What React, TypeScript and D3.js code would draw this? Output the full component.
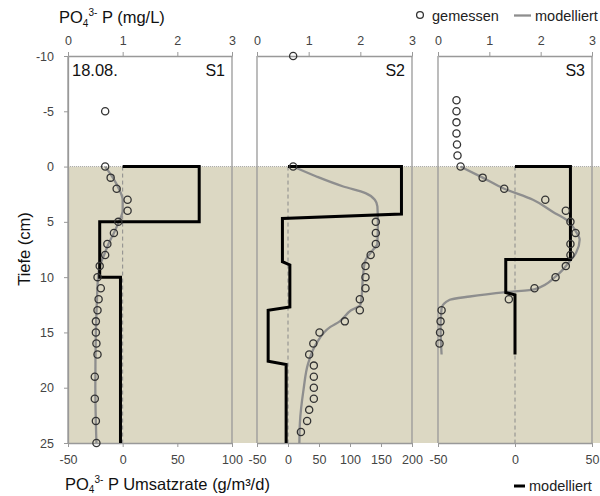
import React, { useEffect, useRef } from "react";
import * as d3 from "d3";

// depth axis (cm), shared by all three cores
const depthTicks = [-10, -5, 0, 5, 10, 15, 20, 25];
const concTicks = [0, 1, 2, 3];
const panelNames = ["S1", "S2", "S3"];
const rateDomains = [[-50, 100], [-50, 200], [-50, 50]];
const rateTicks = [[-50, 0, 50, 100], [-50, 0, 50, 100, 150, 200], [-50, 0, 50]];

// S1 measured PO4-P (mg/L)
const s1MeasDepth = [-5, 0, 1, 2, 3, 4, 5, 6, 7, 8, 9, 10, 11, 12, 13, 14, 15, 16, 17, 19, 21, 23, 25];
const s1MeasConc = [0.68, 0.68, 0.78, 0.89, 1.09, 1.09, 0.92, 0.84, 0.72, 0.68, 0.58, 0.54, 0.6, 0.56, 0.54, 0.51, 0.51, 0.52, 0.54, 0.49, 0.49, 0.51, 0.52];
// S1 modelled
const s1ModDepth = [0, 1, 2, 3, 4, 5, 6, 7, 8, 9, 10, 12, 15, 20, 25];
const s1ModConc = [0.68, 0.82, 0.93, 1.0, 1.0, 0.93, 0.84, 0.74, 0.66, 0.58, 0.55, 0.53, 0.51, 0.5, 0.52];
// S1 rate (g/m3/d)
const s1RateDepth = [0, 0, 5, 5, 10, 10, 25];
const s1Rate = [0, 70, 70, -21, -21, -2, -2];

// S2
const s2MeasDepth = [-10, 0, 5, 6, 7, 8, 9, 10, 11, 12, 13, 14, 15, 16, 17, 18, 19, 20, 21, 22, 23, 24];
const s2MeasConc = [0.7, 0.7, 2.3, 2.3, 2.3, 2.2, 2.1, 2.1, 2.1, 1.99, 1.99, 1.7, 1.21, 1.09, 1.01, 1.1, 1.1, 1.1, 1.1, 1.01, 0.97, 0.85];
const s2ModDepth = [0, 0.9, 1.8, 2.4, 3, 3.6, 5, 7, 7.5, 8.6, 10, 12, 12.5, 13, 14, 14.5, 16, 17.8, 20.2, 23.2, 25];
const s2ModConc = [0.7, 1.15, 1.67, 2.1, 2.28, 2.33, 2.34, 2.33, 2.25, 2.09, 2.05, 2.02, 2.0, 1.82, 1.6, 1.42, 1.15, 0.99, 0.9, 0.83, 0.82];
const s2RateDepth = [0, 0, 4.3, 4.7, 8.6, 8.9, 12.7, 13.0, 17.6, 17.9, 25];
const s2Rate = [0, 183, 183, -9, -9, 3, 3, -32, -32, -3, -3];

// S3
const s3MeasDepth = [-6, -5, -4, -3, -2, -1, 0, 1, 2, 3, 4, 5, 6, 7, 8, 9, 10, 11, 12, 13, 14, 15, 16];
const s3MeasConc = [0.36, 0.36, 0.36, 0.36, 0.37, 0.38, 0.44, 0.87, 1.29, 2.09, 2.49, 2.58, 2.68, 2.58, 2.58, 2.49, 2.29, 1.88, 1.38, 0.07, 0.05, 0.04, 0.03];
const s3ModDepth = [0, 1, 2, 3, 4.1, 4.8, 5.9, 6.6, 7.8, 8.6, 9.9, 11.1, 11.35, 11.75, 12.05, 12.8, 14.5, 17];
const s3ModConc = [0.44, 0.87, 1.29, 1.85, 2.24, 2.5, 2.69, 2.76, 2.69, 2.56, 2.3, 1.88, 1.33, 0.62, 0.23, 0.07, 0.05, 0.07];
const s3RateDepth = [0, 0, 8.4, 8.4, 11.4, 11.6, 17];
const s3Rate = [0, 36, 36, -6, -6, 0, 0];

const panels = [
  { name: panelNames[0], x0: 68, x1: 232, md: s1MeasDepth, mc: s1MeasConc, od: s1ModDepth, oc: s1ModConc, rd: s1RateDepth, r: s1Rate },
  { name: panelNames[1], x0: 257, x1: 412, md: s2MeasDepth, mc: s2MeasConc, od: s2ModDepth, oc: s2ModConc, rd: s2RateDepth, r: s2Rate },
  { name: panelNames[2], x0: 438, x1: 592, md: s3MeasDepth, mc: s3MeasConc, od: s3ModDepth, oc: s3ModConc, rd: s3RateDepth, r: s3Rate },
];

const FONT = "'Liberation Sans', Arial, sans-serif";
const fmt = (d: any) => String(d);

export default function App() {
  const ref = useRef<SVGGElement>(null);

  useEffect(() => {
    const svg = d3.select(ref.current);
    svg.selectAll("*").remove();

    const y = d3.scaleLinear().domain([-10, 25]).range([56, 443]);

    // sediment shading
    svg.append("rect").attr("x", 68).attr("y", y(0)).attr("width", 600 - 68).attr("height", y(25) - y(0))
      .attr("fill", "#dcd8c3");
    svg.append("line").attr("x1", 68).attr("x2", 600).attr("y1", y(0)).attr("y2", y(0))
      .attr("stroke", "#a8a8a8").attr("stroke-dasharray", "1,1");

    panels.forEach((p, i) => {
      const xc = d3.scaleLinear().domain([0, 3]).range([p.x0, p.x1]);
      const xr = d3.scaleLinear().domain(rateDomains[i]).range([p.x0, p.x1]);
      const g = svg.append("g");

      // borders
      [p.x0, p.x1].forEach(xx => {
        g.append("line").attr("x1", xx).attr("x2", xx).attr("y1", y(-10)).attr("y2", y(25))
          .attr("stroke", "#999").attr("stroke-width", 1.3);
      });

      // zero-rate line
      g.append("line").attr("x1", xr(0)).attr("x2", xr(0)).attr("y1", y(0)).attr("y2", y(25))
        .attr("stroke", "#8a8a8a").attr("stroke-dasharray", "4,3");

      // top axis
      const top = g.append("g").attr("transform", `translate(0,${y(-10)})`)
        .call(d3.axisTop(xc).tickValues(concTicks).tickSize(4).tickSizeOuter(0).tickPadding(7).tickFormat(fmt));
      // bottom axis
      const bot = g.append("g").attr("transform", `translate(0,${y(25)})`)
        .call(d3.axisBottom(xr).tickValues(rateTicks[i]).tickSize(4).tickSizeOuter(0).tickPadding(8).tickFormat(fmt));
      [top, bot].forEach(a => {
        a.select(".domain").attr("stroke", "#999").attr("stroke-width", 1.3);
        a.selectAll("line").attr("stroke", "#999");
        a.selectAll("text").attr("fill", "#444").style("font-size", "12.5px").style("font-family", FONT);
      });

      // modelled concentration
      const modPts = p.od.map((d, k) => [p.oc[k], d]);
      g.append("path").datum(modPts)
        .attr("d", d3.line<number[]>().x(d => xc(d[0])).y(d => y(d[1])).curve(d3.curveMonotoneY))
        .attr("fill", "none").attr("stroke", "#8e8e8e").attr("stroke-width", 2.3);

      // modelled rate
      const ratePts = p.rd.map((d, k) => [p.r[k], d]);
      g.append("path").datum(ratePts)
        .attr("d", d3.line<number[]>().x(d => xr(d[0])).y(d => y(d[1])))
        .attr("fill", "none").attr("stroke", "#000").attr("stroke-width", 3).attr("stroke-linejoin", "miter");

      // measured
      g.selectAll("circle.m").data(p.md.map((d, k) => [p.mc[k], d])).join("circle")
        .attr("cx", d => xc(d[0])).attr("cy", d => y(d[1])).attr("r", 3.6)
        .attr("fill", "none").attr("stroke", "#333").attr("stroke-width", 1.3);

      g.append("text").attr("x", p.x1 - 7).attr("y", 76).attr("text-anchor", "end")
        .style("font-size", "16px").style("font-family", FONT).attr("fill", "#111").text(p.name);
    });

    // depth axis
    const ya = svg.append("g").attr("transform", "translate(68,0)")
      .call(d3.axisLeft(y).tickValues(depthTicks).tickSize(4).tickSizeOuter(0).tickPadding(10).tickFormat(fmt));
    ya.select(".domain").attr("stroke", "#999").attr("stroke-width", 1.3);
    ya.selectAll("line").attr("stroke", "#999");
    ya.selectAll("text").attr("fill", "#444").style("font-size", "12.5px").style("font-family", FONT);

    svg.append("text").attr("x", 72).attr("y", 76).style("font-size", "16.5px").style("font-family", FONT)
      .attr("fill", "#111").text("18.08.");

    // legends
    svg.append("circle").attr("cx", 420).attr("cy", 15).attr("r", 3.4)
      .attr("fill", "none").attr("stroke", "#333").attr("stroke-width", 1.3);
    svg.append("text").attr("x", 432).attr("y", 20.5).style("font-size", "14.5px").style("font-family", FONT)
      .attr("fill", "#222").text("gemessen");
    svg.append("line").attr("x1", 514).attr("x2", 531).attr("y1", 15.5).attr("y2", 15.5)
      .attr("stroke", "#8e8e8e").attr("stroke-width", 2.3);
    svg.append("text").attr("x", 535).attr("y", 20.5).style("font-size", "14.5px").style("font-family", FONT)
      .attr("fill", "#222").text("modelliert");
    svg.append("line").attr("x1", 514).attr("x2", 525).attr("y1", 486).attr("y2", 486)
      .attr("stroke", "#000").attr("stroke-width", 3);
    svg.append("text").attr("x", 529).attr("y", 491).style("font-size", "14.5px").style("font-family", FONT)
      .attr("fill", "#222").text("modelliert");
  }, []);

  const label = { fontFamily: FONT, fill: "#111" };
  return (
    <svg width={600} height={496} style={{ position: "absolute", left: 0, top: 0, background: "#fff" }}>
      <g ref={ref} />
      <text x={59} y={22.5} style={{ ...label, fontSize: "16.5px" }}>
        PO<tspan fontSize="10" dy="4">4</tspan><tspan fontSize="10" dy="-11">3-</tspan><tspan dy="7"> P (mg/L)</tspan>
      </text>
      <text x={65} y={490} style={{ ...label, fontSize: "16.5px" }}>
        PO<tspan fontSize="10" dy="3">4</tspan><tspan fontSize="10" dy="-10">3-</tspan><tspan dy="7"> P Umsatzrate (g/m³/d)</tspan>
      </text>
      <text transform="translate(30,249) rotate(-90)" textAnchor="middle" style={{ ...label, fontSize: "16.5px" }}>Tiefe (cm)</text>
    </svg>
  );
}
